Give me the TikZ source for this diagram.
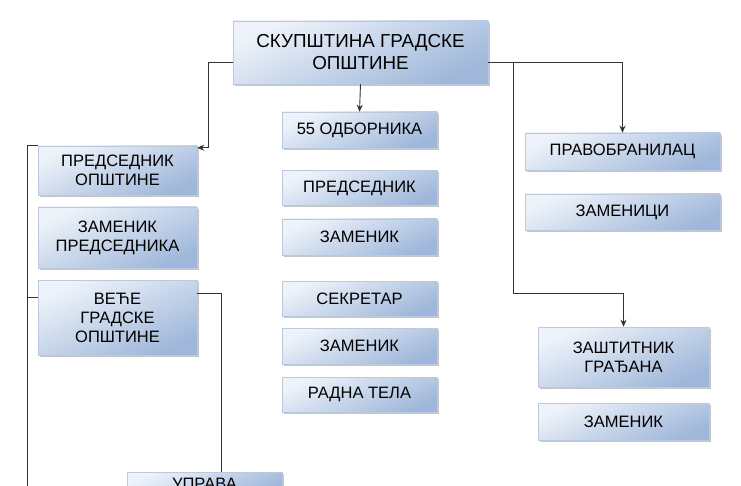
\documentclass[tikz,border=0pt]{standalone}
\usepackage{fontspec}
\setmainfont{Liberation Sans}
\usetikzlibrary{shadows,arrows.meta,calc}
\definecolor{boxlight}{HTML}{EEF3FA}
\definecolor{boxdark}{HTML}{9FB7DA}
\definecolor{boxedge}{HTML}{BCC8DC}
\definecolor{linec}{HTML}{333333}
\tikzset{
  box/.style={draw=boxedge, line width=0.5pt, top color=boxlight, bottom color=boxdark, shading angle=25,
    drop shadow={shadow xshift=2pt, shadow yshift=-2pt, opacity=0.45, fill=gray},
    align=center, inner sep=0pt, font=\fontsize{16.5}{19}\selectfont, text=black},
  conn/.style={draw=linec, line width=0.9pt},
  arr/.style={-{Stealth[length=7pt,width=6pt]}},
}
\begin{document}
\begin{tikzpicture}[x=1pt,y=-1pt]
\useasboundingbox (0,0) rectangle (741,486);
\fill[white] (0,0) rectangle (741,486);
\clip (0,0) rectangle (741,486);
% top
\node[box, minimum width=255pt, minimum height=63pt, font=\fontsize{18.8}{22}\selectfont] (top) at (360.5,52.5) {СКУПШТИНА ГРАДСКЕ\\ОПШТИНЕ};
% middle column
\node[box, minimum width=155pt, minimum height=36pt] (m0) at (359.5,130) {55 ОДБОРНИКА};
\node[box, minimum width=155pt, minimum height=35pt] (m1) at (359.5,188) {ПРЕДСЕДНИК};
\node[box, minimum width=155pt, minimum height=36pt] (m2) at (359.5,237) {ЗАМЕНИК};
\node[box, minimum width=155pt, minimum height=35pt] (m3) at (359.5,298.5) {СЕКРЕТАР};
\node[box, minimum width=155pt, minimum height=36pt] (m4) at (359.5,346) {ЗАМЕНИК};
\node[box, minimum width=155pt, minimum height=35pt] (m5) at (359.5,394.5) {РАДНА ТЕЛА};
% left column
\node[box, minimum width=159pt, minimum height=49pt] (l1) at (117.5,170.5) {ПРЕДСЕДНИК\\ОПШТИНЕ};
\node[box, minimum width=159pt, minimum height=61pt] (l2) at (117.5,237.5) {ЗАМЕНИК\\ПРЕДСЕДНИКА};
\node[box, minimum width=159pt, minimum height=75pt] (l3) at (117.5,317.5) {ВЕЋЕ\\ГРАДСКЕ\\ОПШТИНЕ};
% right column
\node[box, minimum width=195pt, minimum height=37pt] (r1) at (622.5,151.5) {ПРАВОБРАНИЛАЦ};
\node[box, minimum width=195pt, minimum height=36pt] (r2) at (622.5,212) {ЗАМЕНИЦИ};
\node[box, minimum width=171pt, minimum height=60pt] (r3) at (623.5,357) {ЗАШТИТНИК\\ГРАЂАНА};
\node[box, minimum width=171pt, minimum height=37pt] (r4) at (623.5,421.5) {ЗАМЕНИК};
% bottom (cut off by the frame, as in the reference)
\node[box, minimum width=155pt, minimum height=24pt] (up) at (204.5,484) {УПРАВА};
% connectors
\draw[conn,arr] ([yshift=-9.5pt]top.west) -| ([xshift=11pt,yshift=-2pt]l1.north east) -- ([yshift=-2pt]l1.north east);
\draw[conn,arr] (top.south) -- (m0.north);
\draw[conn,arr] ([yshift=-9.5pt]top.east) -| (r1.north);
\coordinate (br) at ([xshift=25pt,yshift=-9.5pt]top.east);
\coordinate (bend) at ($(br)+(0,231)$);
\draw[conn,arr] (br) -- (bend) -| (r3.north);
\coordinate (sp) at ([xshift=-10pt]l1.north west);
\coordinate (l3in) at ([yshift=20.5pt]l3.west);
\draw[conn] (l1.north west) -- (sp) -- ++(0,350);
\draw[conn] (l3in) -- (sp |- l3in);
\draw[conn] ([yshift=24.5pt]l3.east) -| ([xshift=16.5pt]up.north);
\end{tikzpicture}
\end{document}
